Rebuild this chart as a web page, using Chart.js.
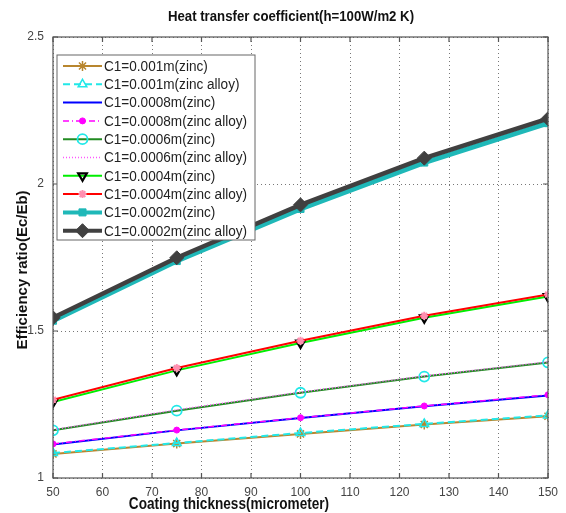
<!DOCTYPE html>
<html>
<head>
<meta charset="utf-8">
<script src="https://cdn.jsdelivr.net/npm/chart.js@4"></script>
<style>
  body { margin: 0; background: #fff; }
  #wrap { width: 566px; height: 513px; position: relative; }
</style>
</head>
<body>
<div id="wrap"><canvas id="myChart"></canvas></div>
<script>
// coating thickness (micrometer)
let thickness = [50, 75, 100, 125, 150];

// efficiency ratio Ec/Eb per C1 value
let c1_001_zinc   = [1.082, 1.117, 1.150, 1.182, 1.210];
let c1_001_alloy  = [1.085, 1.119, 1.153, 1.184, 1.213];
let c1_0008_zinc  = [1.114, 1.162, 1.204, 1.244, 1.281];
let c1_0008_alloy = [1.116, 1.163, 1.205, 1.245, 1.283];
let c1_0006_zinc  = [1.162, 1.229, 1.290, 1.345, 1.393];
let c1_0006_alloy = [1.164, 1.232, 1.292, 1.347, 1.395];
let c1_0004_zinc  = [1.258, 1.366, 1.459, 1.545, 1.617];
let c1_0004_alloy = [1.266, 1.374, 1.467, 1.552, 1.624];
let c1_0002_zinc  = [1.535, 1.738, 1.915, 2.073, 2.207];
let c1_0002_alloy = [1.545, 1.749, 1.929, 2.088, 2.222];

let labels = [
    'C1=0.001m(zinc)', 'C1=0.001m(zinc alloy)',
    'C1=0.0008m(zinc)', 'C1=0.0008m(zinc alloy)',
    'C1=0.0006m(zinc)', 'C1=0.0006m(zinc alloy)',
    'C1=0.0004m(zinc)', 'C1=0.0004m(zinc alloy)',
    'C1=0.0002m(zinc)', 'C1=0.0002m(zinc alloy)'
];
let yTicks = [1, 1.5, 2, 2.5];
let yTickLabels = ['1', '1.5', '2', '2.5'];

let series = [c1_001_zinc, c1_001_alloy, c1_0008_zinc, c1_0008_alloy, c1_0006_zinc,
              c1_0006_alloy, c1_0004_zinc, c1_0004_alloy, c1_0002_zinc, c1_0002_alloy];

// line / marker look for each series (matlab style)
let styles = [
    {color: '#B8862E', width: 2, dash: [], point: 'star', r: 5, fill: '#B8862E', stroke: '#B8862E', pw: 1.5},
    {color: '#22E8E8', width: 2, dash: [7, 4], point: 'triangle', r: 5, fill: '#ffffff00', stroke: '#22E8E8', pw: 1.5},
    {color: '#0000FF', width: 2, dash: [], point: false, r: 0},
    {color: '#FF00FF', width: 1.5, dash: [6, 3, 1, 3], point: 'circle', r: 3, fill: '#FF00FF', stroke: '#FF00FF', pw: 1},
    {color: '#228B22', width: 2, dash: [], point: 'circle', r: 5, fill: '#ffffff00', stroke: '#22E8E8', pw: 1.8},
    {color: '#FF55FF', width: 1.5, dash: [1, 2], point: false, r: 0},
    {color: '#00EE00', width: 2, dash: [], point: 'triangle', rot: 180, r: 5, fill: '#ffffff00', stroke: '#000000', pw: 2.2},
    {color: '#FF0000', width: 2, dash: [], point: 'star', r: 4, fill: '#FF8FB0', stroke: '#FF8FB0', pw: 2},
    {color: '#1FB8B8', width: 5, dash: [], point: 'rect', r: 5, fill: '#1FB8B8', stroke: '#1FB8B8', pw: 1},
    {color: '#404040', width: 4.5, dash: [], point: 'rectRot', r: 7, fill: '#404040', stroke: '#404040', pw: 1}
];

let datasets = series.map(function (vals, i) {
    let s = styles[i];
    return {
        label: labels[i],
        data: vals.map(function (v, j) { return {x: thickness[j], y: v}; }),
        borderColor: s.color,
        borderWidth: s.width,
        borderDash: s.dash,
        pointStyle: s.point,
        pointRadius: s.r,
        pointRotation: s.rot || 0,
        pointBackgroundColor: s.fill,
        pointBorderColor: s.stroke,
        pointBorderWidth: s.pw || 1,
        tension: 0,
        fill: false,
        order: 20 - i   // later series on top, like matlab
    };
});

// draw condensed text (no narrow font installed)
function narrowText(ctx, text, x, y, sx) {
    ctx.save();
    ctx.translate(x, y);
    ctx.scale(sx, 1);
    ctx.fillText(text, 0, 0);
    ctx.restore();
}

// titles, box, inward ticks and the in-plot legend
let decor = {
    id: 'decor',
    afterDraw: function (chart) {
        let ctx = chart.ctx;
        let a = chart.chartArea;
        let xs = chart.scales.x, ys = chart.scales.y;
        ctx.save();

        // box
        ctx.strokeStyle = '#555';
        ctx.lineWidth = 1.2;
        ctx.strokeRect(a.left, a.top, a.right - a.left, a.bottom - a.top);

        // inward tick marks
        ctx.beginPath();
        xs.ticks.forEach(function (t) {
            let px = xs.getPixelForValue(t.value);
            ctx.moveTo(px, a.bottom); ctx.lineTo(px, a.bottom - 5);
            ctx.moveTo(px, a.top); ctx.lineTo(px, a.top + 5);
        });
        ys.ticks.forEach(function (t) {
            let py = ys.getPixelForValue(t.value);
            ctx.moveTo(a.left, py); ctx.lineTo(a.left + 5, py);
            ctx.moveTo(a.right, py); ctx.lineTo(a.right - 5, py);
        });
        ctx.stroke();

        // titles
        ctx.fillStyle = '#111';
        ctx.textAlign = 'center';
        ctx.textBaseline = 'middle';
        ctx.font = 'bold 15px "Liberation Sans", Arial';
        narrowText(ctx, 'Heat transfer coefficient(h=100W/m2 K)', 291, 17, 0.88);
        ctx.font = 'bold 17px "Liberation Sans", Arial';
        narrowText(ctx, 'Coating thickness(micrometer)', 229, 504, 0.8);
        ctx.save();
        ctx.translate(23, 270);
        ctx.rotate(-Math.PI / 2);
        ctx.font = 'bold 15px "Liberation Sans", Arial';
        ctx.fillText('Efficiency ratio(Ec/Eb)', 0, 0);
        ctx.restore();

        // legend
        let lx = 57, ly = 55, lw = 198, lh = 185, row = 18.3;
        ctx.fillStyle = '#fff';
        ctx.fillRect(lx, ly, lw, lh);
        ctx.strokeStyle = '#666';
        ctx.lineWidth = 1;
        ctx.strokeRect(lx, ly, lw, lh);
        ctx.font = '14px "Liberation Sans", Arial';
        ctx.textAlign = 'left';
        chart.data.datasets.forEach(function (ds, i) {
            let y = ly + 11 + i * row;
            ctx.save();
            ctx.strokeStyle = ds.borderColor;
            ctx.lineWidth = Math.min(ds.borderWidth, 4);
            ctx.setLineDash(ds.borderDash);
            ctx.beginPath();
            ctx.moveTo(63, y); ctx.lineTo(102, y);
            ctx.stroke();
            ctx.setLineDash([]);
            if (ds.pointStyle) {
                ctx.fillStyle = ds.pointBackgroundColor;
                ctx.strokeStyle = ds.pointBorderColor;
                ctx.lineWidth = ds.pointBorderWidth;
                Chart.helpers.drawPoint(ctx, {
                    pointStyle: ds.pointStyle,
                    radius: ds.pointRadius,
                    rotation: ds.pointRotation,
                    borderWidth: ds.pointBorderWidth
                }, 82.5, y);
            }
            ctx.restore();
            ctx.fillStyle = '#222';
            narrowText(ctx, ds.label, 104, y + 1, 0.97);
        });
        ctx.restore();
    }
};

let ctx = document.getElementById('myChart').getContext('2d');
let chart = new Chart(ctx, {
    type: 'line',
    data: { datasets: datasets },
    options: {
        responsive: true,
        maintainAspectRatio: false,
        animation: false,
        layout: { padding: { top: 37, right: 18, left: 0, bottom: 0 } },
        plugins: {
            legend: { display: false },
            tooltip: { enabled: false }
        },
        scales: {
            x: {
                type: 'linear',
                min: 50, max: 150,
                afterFit: function (s) { s.height = 35; },
                ticks: {
                    stepSize: 10,
                    padding: 7,
                    color: '#444',
                    font: { family: '"Liberation Sans", Arial', size: 12 }
                },
                grid: { color: '#777', lineWidth: 1, drawTicks: false },
                border: { display: false, dash: [1, 3] }
            },
            y: {
                type: 'linear',
                min: 1, max: 2.5,
                afterFit: function (s) { s.width = 53; },
                afterBuildTicks: function (s) {
                    s.ticks = yTicks.map(function (v) { return {value: v}; });
                },
                ticks: {
                    padding: 9,
                    color: '#444',
                    font: { family: '"Liberation Sans", Arial', size: 12 },
                    callback: function (v) { return yTickLabels[yTicks.indexOf(v)]; }
                },
                grid: { color: '#777', lineWidth: 1, drawTicks: false },
                border: { display: false, dash: [1, 3] }
            }
        }
    },
    plugins: [decor]
});
</script>
</body>
</html>
